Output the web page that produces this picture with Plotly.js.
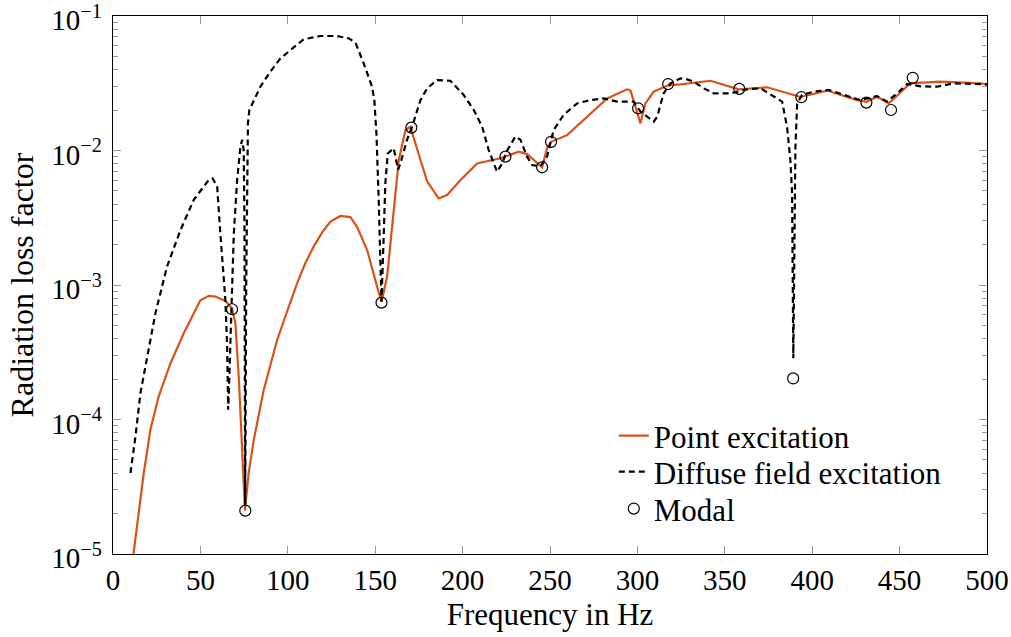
<!DOCTYPE html>
<html>
<head>
<meta charset="utf-8">
<script src="https://cdn.plot.ly/plotly-3.0.1.min.js"></script>
<style>html,body{margin:0;padding:0;background:#fff;}#chart{width:1011px;height:637px;}</style>
</head>
<body>
<div id="chart"></div>
<script>
// Point excitation
const pointFreq = [11.5,14.7,17.6,21.4,26.1,32.8,40.5,50,54.8,58.6,64.3,68.1,70,72,74,75.5,77.6,80.5,86.2,93.9,100,105.3,110,114.8,120,124.4,130.1,135.8,139.6,145.4,151.1,153.6,156.8,160.6,163.5,167.3,170.1,175.9,179.7,186.3,191.1,198.7,208.3,221.6,224.5,232.1,236.9,245.5,248.3,250.6,259.8,271.2,282.7,294.1,296,298.9,301.7,304.6,309.3,317.6,324.6,341.8,358,374.2,393.3,408.5,425.7,431,437.1,443.8,456.2,473.3,496.2,500];
const pointVal = [9.5e-6,2.0e-5,4.0e-5,8.4e-5,1.48e-4,2.6e-4,4.4e-4,7.7e-4,8.3e-4,8.2e-4,7.6e-4,6.7e-4,5.2e-4,2.0e-4,6.0e-5,2.1e-5,4.0e-5,7.0e-5,1.66e-4,3.9e-4,6.6e-4,1.03e-3,1.45e-3,1.93e-3,2.5e-3,2.96e-3,3.26e-3,3.2e-3,2.71e-3,1.82e-3,9.7e-4,7.5e-4,1.15e-3,3.8e-3,8.5e-3,1.42e-2,1.5e-2,8.5e-3,5.9e-3,4.4e-3,4.67e-3,6.0e-3,8.0e-3,8.75e-3,9.0e-3,9.8e-3,9.4e-3,7.5e-3,1.04e-2,1.16e-2,1.30e-2,1.78e-2,2.44e-2,2.85e-2,2.8e-2,2.12e-2,1.59e-2,2.24e-2,2.74e-2,3.05e-2,3.1e-2,3.3e-2,2.85e-2,2.95e-2,2.5e-2,2.79e-2,2.37e-2,2.3e-2,2.51e-2,2.24e-2,3.16e-2,3.25e-2,3.16e-2,3.1e-2];

// Diffuse field excitation
const diffFreq = [10,12.8,15.7,19.5,24.3,30.9,38.6,46.2,54.8,57,59.6,61.4,64.3,65.3,65.9,66.4,68.1,69.1,71,72.9,73.9,74.8,75.2,75.6,76.2,77.2,78,80.5,84.3,90,95.8,101.5,109.1,118.6,128.2,134.8,138.7,143.4,148.2,149.5,150.7,152,153,153.6,154.9,155.8,157.2,160.6,163.1,164.4,168.2,171.1,175.9,179.7,185.4,193,200.6,206.4,211.2,214.9,219.7,222.6,225.5,230.2,233.1,236.9,239.8,244.5,248.3,252.1,257.8,265.5,273.1,280.7,288.4,297.9,301.7,305.5,309.3,311.3,315,318.9,324.6,328.4,332.2,337.9,343.6,353.2,362.7,370.4,378,382.8,385.6,387.5,388.5,389.2,390.4,391.4,394.2,400.9,409.4,418,427.5,437.1,442.8,448.6,454.3,461.9,471.4,481,490.5,500];
const diffVal = [4.0e-5,7.4e-5,1.57e-4,2.93e-4,6.2e-4,1.37e-3,2.56e-3,4.3e-3,6.05e-3,6.2e-3,5.4e-3,2.42e-3,7.7e-4,3.5e-4,1.18e-4,1.8e-4,1.1e-3,2.4e-3,6.0e-3,1.07e-2,1.2e-2,1.0e-2,3.0e-3,2.3e-5,1.0e-3,1.6e-2,2.0e-2,2.37e-2,2.98e-2,3.86e-2,4.84e-2,5.58e-2,6.71e-2,7.1e-2,7.1e-2,6.83e-2,6.34e-2,4.45e-2,2.98e-2,2.37e-2,1.34e-2,4.3e-3,1.37e-3,7.5e-4,2.4e-3,5.7e-3,9.5e-3,1.04e-2,7.2e-3,8.0e-3,1.2e-2,1.5e-2,2.37e-2,2.9e-2,3.34e-2,3.3e-2,2.59e-2,2.0e-2,1.5e-2,1.01e-2,6.95e-3,8.0e-3,1.0e-2,1.27e-2,1.2e-2,9.0e-3,7.8e-3,7.6e-3,9.0e-3,1.42e-2,1.84e-2,2.24e-2,2.37e-2,2.44e-2,2.31e-2,2.31e-2,1.95e-2,1.78e-2,1.64e-2,1.78e-2,2.66e-2,3.16e-2,3.44e-2,3.38e-2,3.25e-2,2.9e-2,2.66e-2,2.66e-2,2.85e-2,2.9e-2,2.51e-2,2.31e-2,1.5e-2,8.5e-3,4.8e-3,2.85e-4,1.07e-2,2.24e-2,2.59e-2,2.74e-2,2.82e-2,2.59e-2,2.37e-2,2.54e-2,2.31e-2,2.66e-2,3.12e-2,3.0e-2,2.98e-2,3.16e-2,3.12e-2,3.1e-2];

// Modal
const modalFreq = [68.1,75.7,153.6,170.7,224.5,245.5,250.6,300.4,317.6,358.3,389.1,393.8,431,445.1,457.5];
const modalVal = [6.6e-4,2.1e-5,7.4e-4,1.48e-2,9.0e-3,7.5e-3,1.16e-2,2.06e-2,3.12e-2,2.87e-2,2.02e-4,2.49e-2,2.27e-2,2.0e-2,3.47e-2];

const xTicks = [0,50,100,150,200,250,300,350,400,450,500];
const yTickVals = [1e-5,1e-4,1e-3,1e-2,1e-1];
const yTickText = ['10<sup>−5</sup>','10<sup>−4</sup>','10<sup>−3</sup>','10<sup>−2</sup>','10<sup>−1</sup>'];

const minorY = [];
for (let e = -5; e < -1; e++) for (let m = 2; m <= 9; m++) minorY.push(m * Math.pow(10, e));

const FONT = 'Liberation Serif, Times New Roman, serif';

const traces = [
  {x: pointFreq, y: pointVal, type: 'scatter', mode: 'lines', name: 'Point excitation', legend: 'legend',
   line: {color: '#d95319', width: 2.2}},
  {x: diffFreq, y: diffVal, type: 'scatter', mode: 'lines', name: 'Diffuse field excitation', legend: 'legend2',
   line: {color: '#000000', width: 2.2, dash: '6px,4px'}},
  {x: modalFreq, y: modalVal, type: 'scatter', mode: 'markers', name: 'Modal', legend: 'legend3',
   marker: {symbol: 'circle-open', size: 11, color: '#000000', line: {width: 1.2, color: '#000'}}}
];

const legendBase = {x: 0.573, xanchor: 'left', yanchor: 'middle', bgcolor: 'rgba(255,255,255,0)',
                    borderwidth: 0, font: {family: FONT, size: 31, color: '#000'}};

const layout = {
  width: 1011, height: 637,
  margin: {l: 113, r: 24, t: 16, b: 83},
  paper_bgcolor: '#fff', plot_bgcolor: '#fff',
  font: {family: FONT, size: 29, color: '#000'},
  showlegend: true,
  legend: Object.assign({}, legendBase, {y: 0.2195}),
  legend2: Object.assign({}, legendBase, {y: 0.1526}),
  legend3: Object.assign({}, legendBase, {y: 0.0838}),
  xaxis: {
    range: [0, 500], tickvals: xTicks, ticks: 'inside', ticklen: 8, tickcolor: '#999', tickwidth: 1,
    showgrid: false, zeroline: false, showline: true, linecolor: '#000', linewidth: 1.3, mirror: 'allticks',
    tickfont: {family: FONT, size: 29}, automargin: false, ticklabeloverflow: 'allow',
    title: {text: 'Frequency in Hz', font: {family: FONT, size: 31}, standoff: 8}
  },
  yaxis: {
    type: 'log', range: [-5, -1], tickvals: yTickVals, ticktext: yTickText,
    ticks: 'inside', ticklen: 8, tickcolor: '#999', tickwidth: 1,
    minor: {tickvals: minorY, ticks: 'inside', ticklen: 5, tickcolor: '#999', showgrid: false},
    showgrid: false, zeroline: false, showline: true, linecolor: '#000', linewidth: 1.3, mirror: 'allticks',
    tickfont: {family: FONT, size: 29}, automargin: false, ticklabelstandoff: 4, ticklabeloverflow: 'allow',
    ticklabelshift: 4,
    title: {text: 'Radiation loss factor', font: {family: FONT, size: 32}, standoff: 8}
  }
};

Plotly.newPlot('chart', traces, layout, {displayModeBar: false, staticPlot: true});
</script>
</body>
</html>
